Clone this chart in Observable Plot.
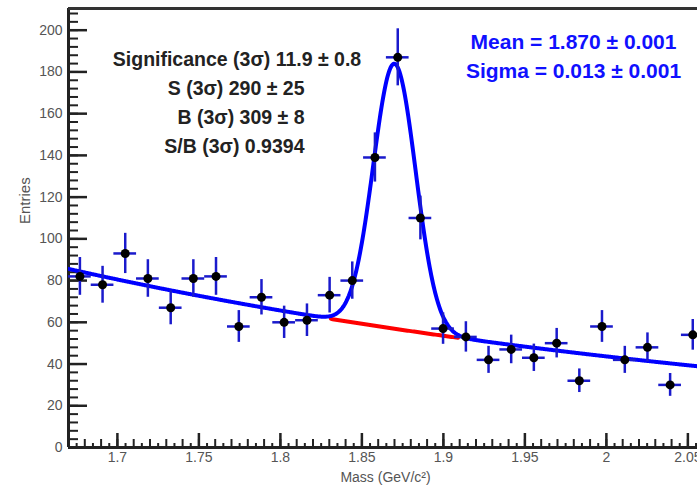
<!DOCTYPE html>
<html>
<head>
<meta charset="utf-8">
<script src="https://cdn.jsdelivr.net/npm/d3@7"></script>
<script src="https://cdn.jsdelivr.net/npm/@observablehq/plot@0.6"></script>
<style>
  html, body { margin: 0; padding: 0; background: #fff; }
  #chart svg { display: block; }
</style>
</head>
<body>
<div id="chart"></div>
<script>
// ---- data ----
const binCenters = [1.6770, 1.6909, 1.7048, 1.7187, 1.7327, 1.7466, 1.7605, 1.7745, 1.7884, 1.8023,
                    1.8163, 1.8302, 1.8441, 1.8580, 1.8720, 1.8859, 1.8998, 1.9138, 1.9277, 1.9416,
                    1.9555, 1.9695, 1.9834, 1.9973, 2.0113, 2.0252, 2.0391, 2.0530];
const entries = [82, 78, 93, 81, 67, 81, 82, 58, 72, 60,
                 61, 73, 80, 139, 187, 110, 57, 53, 42, 47,
                 43, 50, 32, 58, 42, 48, 30, 54];
const binWidth = 0.01393;

// fit parameters (Gaussian + exponential background)
const fitMean = 1.870;
const fitSigma = 0.013;
const fitAmp = 127;
const bgNorm = 85.6;     // background at m = 1.67
const bgSlope = 2.04;    // exponential decay per GeV/c^2
const bgRef = 1.67;

const xTickLabels = [1.7, 1.75, 1.8, 1.85, 1.9, 1.95, 2, 2.05];
const yTickLabels = [0, 20, 40, 60, 80, 100, 120, 140, 160, 180, 200];

const statsLines = ["Significance (3σ) 11.9 ± 0.8", "S (3σ) 290 ± 25", "B (3σ) 309 ± 8", "S/B (3σ) 0.9394"];
const fitLines = ["Mean = 1.870 ± 0.001", "Sigma = 0.013 ± 0.001"];
const xTitle = "Mass (GeV/c²)";
const yTitle = "Entries";

// ---- derived tables ----
const xDomain = [1.67, 2.0559];
const yDomain = [0, 210.4];
const hist = binCenters.map((m, i) => ({m, n: entries[i], e: Math.sqrt(entries[i])}));
const bg = m => bgNorm * Math.exp(-bgSlope * (m - bgRef));
const fit = m => bg(m) + fitAmp * Math.exp(-0.5 * ((m - fitMean) / fitSigma) ** 2);
const fitCurve = d3.range(xDomain[0], xDomain[1] + 0.0005, 0.0005).map(m => ({m, v: fit(m)}));
const bgCurve = d3.range(fitMean - 3 * fitSigma, fitMean + 3 * fitSigma + 0.0001, 0.001).map(m => ({m, v: bg(m)}));

const xMinor = d3.range(167, 206).map(k => k / 100);
const xTiny = d3.range(167, 206).map(k => k / 100 + 0.005);
const yMinor = d3.range(0, 212, 4);

const font = "'Liberation Sans', Arial, sans-serif";
const tickStyle = {tickFormat: () => "", stroke: "#222", label: null};

// one text mark per annotation line, positioned relative to the frame
const statsMarks = [
  {dx: 168.5, dy: 51.5, anchor: "middle"},
  {dx: 236, dy: 80.5, anchor: "end"},
  {dx: 236, dy: 109.5, anchor: "end"},
  {dx: 236, dy: 138.5, anchor: "end"}
].map((p, i) => Plot.text([statsLines[i]], {
  frameAnchor: "top-left", dx: p.dx, dy: p.dy, textAnchor: p.anchor, lineAnchor: "middle",
  fontSize: 19.5, fontWeight: "bold", fill: "#222", ariaLabel: "stats"
}));
const fitMarks = [33.5, 62.5].map((dy, i) => Plot.text([fitLines[i]], {
  frameAnchor: "top-left", dx: 505, dy, textAnchor: "middle", lineAnchor: "middle",
  fontSize: 21, fontWeight: "bold", fill: "#1010ff", ariaLabel: "stats"
}));

const chart = Plot.plot({
  width: 697,
  height: 486,
  marginLeft: 68,
  marginRight: 0,
  marginTop: 8,
  marginBottom: 39,
  style: {fontFamily: font, background: "white"},
  x: {domain: xDomain, label: null},
  y: {domain: yDomain, label: null},
  marks: [
    // ticks (pointing inward like ROOT)
    Plot.axisY({ticks: yMinor, tickSize: -10, strokeWidth: 2, ...tickStyle}),
    Plot.axisY({ticks: yTickLabels, tickSize: -19, strokeWidth: 2.5, ...tickStyle}),
    Plot.axisY({ticks: yTickLabels, tickSize: 0, tickPadding: 6, fontSize: 14, fill: "#555", label: null}),
    Plot.axisX({ticks: xTiny, tickSize: -4, strokeWidth: 2, ...tickStyle}),
    Plot.axisX({ticks: xMinor, tickSize: -8, strokeWidth: 2, ...tickStyle}),
    Plot.axisX({ticks: xTickLabels, tickSize: -14, strokeWidth: 2.5, ...tickStyle}),
    Plot.axisX({ticks: xTickLabels, tickSize: 0, tickPadding: 5, fontSize: 14, fill: "#555", tickFormat: d => String(d), label: null}),
    // frame lines
    Plot.ruleX([xDomain[0]], {stroke: "#222", strokeWidth: 3}),
    Plot.ruleY([yDomain[0]], {stroke: "#222", strokeWidth: 3}),
    Plot.ruleY([yDomain[1]], {stroke: "#333", strokeWidth: 3}),
    // fit
    Plot.line(bgCurve, {x: "m", y: "v", stroke: "#ff0000", strokeWidth: 4, clip: true}),
    Plot.line(fitCurve, {x: "m", y: "v", stroke: "#0000ff", strokeWidth: 4, clip: true}),
    // data with errors
    Plot.ruleX(hist, {x: "m", y1: d => d.n - d.e, y2: d => d.n + d.e, stroke: "#1a1acc", strokeWidth: 2.5, clip: true}),
    Plot.ruleY(hist, {y: "n", x1: d => d.m - binWidth / 2, x2: d => d.m + binWidth / 2, stroke: "#1a1acc", strokeWidth: 2.5, clip: true}),
    Plot.dot(hist, {x: "m", y: "n", r: 4.5, fill: "black", clip: true}),
    // annotations
    ...statsMarks,
    ...fitMarks,
    Plot.text([xTitle], {frameAnchor: "bottom", dx: 2.5, dy: 30, lineAnchor: "middle", fontSize: 14, fill: "#555"}),
    Plot.text([yTitle], {frameAnchor: "left", dx: -43, dy: -4, rotate: -90, lineAnchor: "middle", fontSize: 15, fill: "#555"})
  ]
});

document.getElementById("chart").appendChild(chart);

// render ± and σ in a lighter weight (ROOT symbol font)
d3.select(chart).selectAll('g[aria-label="stats"] text').each(function() {
  const s = this.textContent;
  this.innerHTML = s.replace(/([±σ])/g, '<tspan font-weight="normal">$1</tspan>');
});
</script>
</body>
</html>
